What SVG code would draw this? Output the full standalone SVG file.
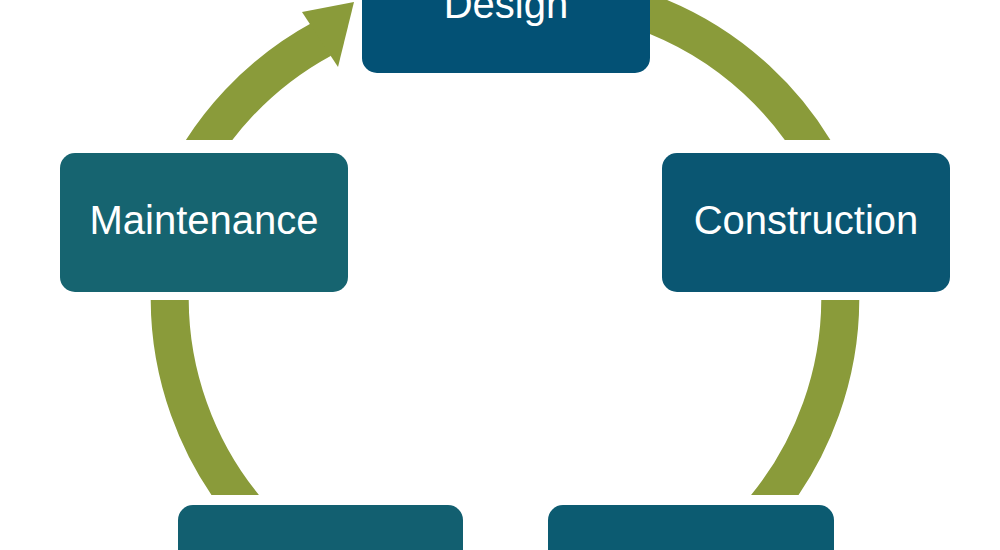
<svg xmlns="http://www.w3.org/2000/svg" width="1000" height="550" viewBox="0 0 1000 550">
<defs>
<clipPath id="cl">
<rect x="0" y="-50" width="1000" height="190"/>
<rect x="0" y="300" width="1000" height="195"/>
</clipPath>
</defs>
<style>
.arc{fill:none;stroke:#8a9b3a;stroke-width:38}
.t{font-family:"Liberation Sans",Arial,sans-serif;font-size:40px;fill:#fff;text-anchor:middle}
</style>
<rect width="1000" height="550" fill="#fff"/>
<g id="connectors" clip-path="url(#cl)">
<path class="arc" d="M640 10 A330 330 0 0 1 835 190"/>
<path class="arc" d="M838 260 A330 330 0 0 1 740 535"/>
<path class="arc" d="M270 535 A330 330 0 0 1 172 260"/>
<path class="arc" d="M180 190 A330 330 0 0 1 322 39"/>
<polygon points="302,12 338,67 354,2" fill="#8a9b3a"/>
</g>
<g id="design"><rect x="362" y="-70" width="288" height="143" rx="15" fill="#035175"/><text class="t" x="506" y="18">Design</text></g>
<g id="construction"><rect x="662" y="153" width="288" height="139" rx="15" fill="#0a5672"/><text class="t" x="806" y="234">Construction</text></g>
<g id="maintenance"><rect x="60" y="153" width="288" height="139" rx="15" fill="#166470"/><text class="t" x="204" y="234">Maintenance</text></g>
<g id="bottom-left"><rect x="178" y="505" width="285" height="139" rx="15" fill="#125f70"/></g>
<g id="bottom-right"><rect x="548" y="505" width="286" height="139" rx="15" fill="#0c5b71"/></g>
</svg>
